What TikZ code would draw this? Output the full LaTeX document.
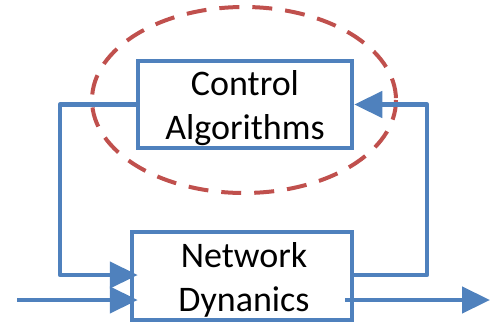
\documentclass[tikz,border=0pt]{standalone}
\usepackage{fontspec}
\setmainfont{Carlito}
\usetikzlibrary{arrows.meta}
\definecolor{boxblue}{RGB}{79,129,189}
\definecolor{loopred}{RGB}{192,80,77}
\tikzset{
    block/.style={draw=boxblue, line width=4.5pt, fill=white, inner sep=0pt},
    blocktext/.style={align=center, font=\fontsize{36}{44}\selectfont,
        inner sep=0pt},
    flow/.style={boxblue, line width=4.5pt,
        -{Triangle[length=28pt, width=26pt]}},
}

\begin{document}
\begin{tikzpicture}[x=1pt, y=-1pt]
        \useasboundingbox (0,0) rectangle (491,325);
        % Red dashed ring round the controller
        \draw[loopred, line width=4pt, dash pattern=on 20pt off 13pt]
            (244,100) ellipse [x radius=152, y radius=93];
        % Draw the two blocks
        \node[block, minimum width=214pt, minimum height=87pt]
            (ctrl) at (245,104.5) {};
        \node[blocktext] (ctrltext) at ([yshift=-4pt]ctrl.center)
            {Control\\Algorithms};
        \node[block, minimum width=220pt, minimum height=88pt]
            (net) at (242,276) {};
        \node[blocktext] (nettext) at ([xshift=2pt, yshift=-4pt]net.center)
            {Network\\Dynanics};
        % Outer ends of the loop and the signal lines
        \coordinate (lft) at (60,275);
        \coordinate (rgt) at (427,275);
        \coordinate (inp) at (17,300);
        \coordinate (outp) at (490,300);
        % Feedback loop
        \draw[flow, line join=round, shorten >=-8pt]
            (ctrl.west) -| (lft) -- (net.west |- lft);
        \draw[flow, line join=round]
            (net.east |- rgt) -- (rgt) |- (ctrl.east);
        % Input and output
        \draw[flow, shorten >=-8pt] (inp) -- (net.west |- inp);
        \draw[flow, shorten <=-9pt] (net.east |- outp) -- (outp);
    \end{tikzpicture}
\end{document}
